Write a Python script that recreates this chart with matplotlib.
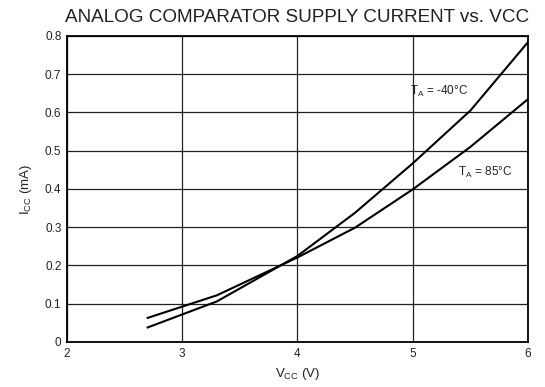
import matplotlib
matplotlib.use("Agg")
import matplotlib.pyplot as plt

plt.rcParams['font.family'] = ['Liberation Sans', 'DejaVu Sans']
plt.rcParams['mathtext.fontset'] = 'custom'
plt.rcParams['mathtext.rm'] = 'Liberation Sans'
plt.rcParams['mathtext.it'] = 'Liberation Sans'

# supply voltage (V) and supply current (mA) per temperature
vcc = [2.7, 3.3, 4.0, 4.5, 5.0, 5.5, 6.0]
icc_m40 = [0.038, 0.106, 0.225, 0.338, 0.467, 0.605, 0.784]
icc_85 = [0.063, 0.122, 0.221, 0.299, 0.399, 0.510, 0.635]

x_ticks = [2, 3, 4, 5, 6]
y_ticks = [0, 0.1, 0.2, 0.3, 0.4, 0.5, 0.6, 0.7, 0.8]
y_labels = ["0", "0.1", "0.2", "0.3", "0.4", "0.5", "0.6", "0.7", "0.8"]

txt = "#222222"

fig = plt.figure(figsize=(5.45, 3.87), dpi=100)
ax = fig.add_axes([0.1229, 0.1163, 0.8459, 0.7907])

ax.plot(vcc, icc_m40, color="black", lw=1.5, zorder=3)
ax.plot(vcc, icc_85, color="black", lw=1.5, zorder=3)

ax.set_xlim(2, 6)
ax.set_ylim(0, 0.8)
ax.set_xticks(x_ticks)
ax.set_yticks(y_ticks)
ax.set_yticklabels(y_labels)
ax.tick_params(length=0, labelsize=8.5, pad=4, labelcolor=txt)
ax.grid(True, color="#222222", lw=0.9)

for s in ax.spines.values():
    s.set_linewidth(1.3)

ax.text(4.976, 0.656, r"T$_\mathrm{A}$ = -40°C", fontsize=8.5, va="center", ha="left", color=txt)
ax.text(5.393, 0.443, r"T$_\mathrm{A}$ = 85°C", fontsize=8.5, va="center", ha="left", color=txt)

ax.set_xlabel(r"V$_\mathrm{CC}$ (V)", fontsize=9.5, labelpad=5, color=txt)
ax.set_ylabel(r"I$_\mathrm{CC}$ (mA)", fontsize=9.5, labelpad=8, color=txt)
ax.set_title("ANALOG COMPARATOR SUPPLY CURRENT vs. VCC", fontsize=13.6, pad=10, color=txt)

fig.savefig("out.png", dpi=100)
